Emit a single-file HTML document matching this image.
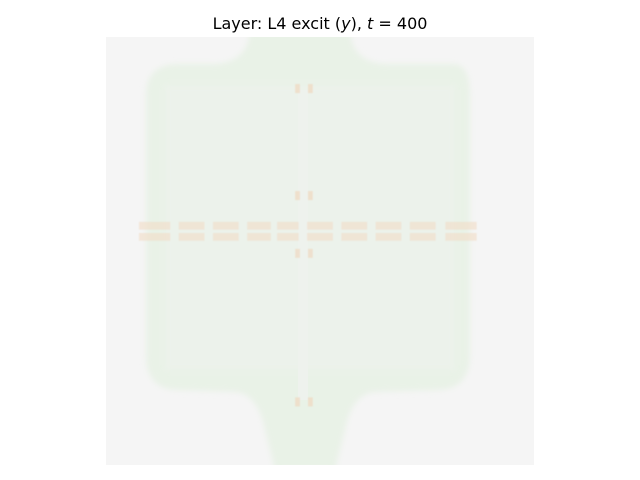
<!DOCTYPE html>
<html><head><meta charset="utf-8"><style>
html,body{margin:0;padding:0;background:#fff;width:640px;height:480px;overflow:hidden}
</style></head><body>
<svg id="chart" width="640" height="480" xmlns="http://www.w3.org/2000/svg">
<defs><filter id="blur" x="-10%" y="-10%" width="120%" height="120%"><feGaussianBlur stdDeviation="3"/></filter>
<filter id="soft"><feGaussianBlur stdDeviation="0.6"/></filter>
<clipPath id="clip"><rect x="106" y="37" width="428" height="428"/></clipPath></defs>
<text x="320" y="29" text-anchor="middle" font-family="DejaVu Sans, Liberation Sans, sans-serif" font-size="16" fill="#000">Layer: L4 excit (<tspan font-style="italic">y</tspan>), <tspan font-style="italic">t</tspan> = 400</text>
<rect x="106" y="37" width="428" height="428" fill="#f5f5f5"/>
<g clip-path="url(#clip)">
<path filter="url(#blur)" fill="#e9f2e7" d="M250,30 L350,30 Q352,62 385,64 L455,64 Q470,66 470,95 L470,355 Q470,388 440,390 L375,392 Q352,394 345,430 L335,470 L275,470 L265,430 Q258,394 235,392 L175,390 Q146,388 146,355 L146,95 Q146,66 175,64 L215,64 Q248,62 250,30 Z"/>
<path filter="url(#blur)" fill="#edf2ec" opacity="0.8" d="M165,85 L455,85 L455,370 L165,370 Z"/>
<rect x="298" y="90" width="10" height="310" fill="#eef2ed"/>
<g id="marks" filter="url(#soft)"></g>
</g>
</svg>
<script>
// heatmap cells on a 100x100 grid (col, row, width in cells, height in cells, intensity 0..1)
const hCols = [7.7, 17, 25, 33, 40, 47, 55, 63, 71, 79.3];
const hWidths = [7.3, 6, 6, 5.5, 5, 6, 6, 6, 6, 7.3];
const hRows = [43.2, 45.8];
const vRows = [11, 36, 49.5, 84.2];
const vCols = [44.2, 47.2];
const vIntensity = [0.75, 0.75, 0.7, 0.75];
const N = 100, X0 = 106, Y0 = 37, S = 428 / N;
const xs = c => X0 + c * S, ys = r => Y0 + r * S;
const g = document.getElementById('marks');
const NS = 'http://www.w3.org/2000/svg';
hRows.forEach((r, ri) => hCols.forEach((c, ci) => {
  const el = document.createElementNS(NS, 'rect');
  
  
  el.setAttribute('x', xs(c)); el.setAttribute('y', ys(r));
  el.setAttribute('width', hWidths[ci] * S); el.setAttribute('height', 1.8 * S);
  el.setAttribute('fill', '#f1dcc6'); el.setAttribute('opacity', '0.6');
  g.appendChild(el);
}));
vRows.forEach((r, ri) => vCols.forEach(c => {
  const el = document.createElementNS(NS, 'rect');
  
  
  el.setAttribute('x', xs(c)); el.setAttribute('y', ys(r));
  el.setAttribute('width', 1.1 * S); el.setAttribute('height', 2.1 * S);
  el.setAttribute('fill', '#efd9c2'); el.setAttribute('opacity', vIntensity[ri]);
  g.appendChild(el);
}));
</script>
</body></html>
